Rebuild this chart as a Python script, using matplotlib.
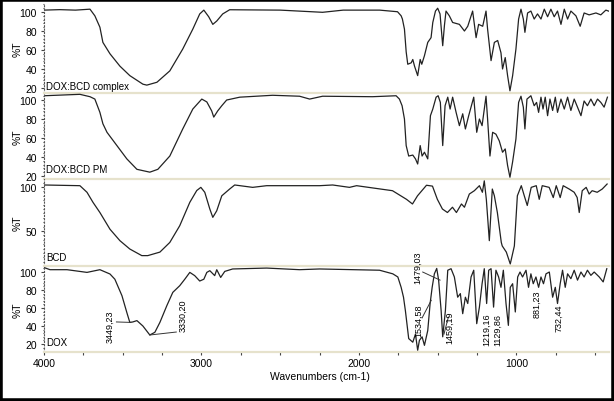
import matplotlib
matplotlib.use('Agg')
import matplotlib.pyplot as plt
from matplotlib.patches import Rectangle
from matplotlib.ticker import MultipleLocator

plt.rcParams['font.family'] = ['Liberation Sans', 'DejaVu Sans']

# Спектры (волновое число, %T)
complex_wn = [4000, 3900, 3800, 3708, 3677, 3645, 3626, 3581, 3518, 3455,
              3372, 3347, 3283, 3201, 3119, 3055, 3011, 2985, 2954, 2928,
              2903, 2865, 2821, 2500, 2231, 2100, 1869, 1755, 1732, 1724,
              1711, 1700, 1690, 1668, 1658, 1647, 1627, 1611, 1601, 1584,
              1563, 1542, 1531, 1514, 1500, 1485, 1468, 1457, 1447, 1426,
              1405, 1362, 1330, 1309, 1278, 1256, 1240, 1214, 1193, 1183,
              1161, 1140, 1119, 1098, 1088, 1071, 1056, 1041, 1024, 1003,
              986, 971, 956, 946, 929, 908, 887, 866, 844, 823,
              802, 781, 760, 739, 717, 696, 675, 654, 622, 595,
              570, 538, 495, 464, 432, 415]
complex_t = [102, 102.5, 102, 103, 96, 84, 68, 56, 43, 33,
             24, 23, 26, 38, 61, 82, 98, 102, 95, 87,
             90.5, 98, 102.4, 102, 99.7, 102, 102, 100.3, 96, 92.6,
             82, 58, 45, 46.5, 50, 43, 33, 50, 45, 54,
             68, 73, 89, 101, 104, 98, 64.5, 86, 101, 96,
             89, 87, 80, 85, 101, 73, 87, 85, 101, 82,
             48.8, 68, 70, 57, 40, 52, 33, 17, 33, 61,
             92.6, 103, 92.6, 78.6, 99, 101, 92.6, 98, 92.6, 103,
             95, 103, 95, 101, 87, 103, 92.6, 101, 96, 85,
             99, 97, 99, 97, 102, 101]

pm_wn = [4000, 3772, 3708, 3677, 3645, 3626, 3600, 3537, 3474, 3410,
         3328, 3277, 3201, 3119, 3055, 2998, 2966, 2935, 2922, 2897,
         2871, 2840, 2757, 2548, 2377, 2313, 2231, 1914, 1764, 1743,
         1726, 1711, 1700, 1684, 1658, 1641, 1627, 1611, 1599, 1584,
         1563, 1546, 1531, 1510, 1497, 1483, 1468, 1453, 1436, 1421,
         1405, 1383, 1362, 1341, 1324, 1303, 1271, 1252, 1235, 1218,
         1193, 1183, 1168, 1151, 1130, 1109, 1088, 1071, 1056, 1041,
         1024, 1003, 986, 971, 956, 946, 933, 908, 887, 872,
         859, 844, 831, 817, 802, 787, 770, 753, 739, 717,
         696, 675, 654, 633, 612, 590, 570, 549, 527, 506,
         485, 464, 443, 422]
pm_t = [104.5, 106, 103.5, 101, 87, 75, 66, 52, 38, 27,
        24, 27, 41, 69.5, 90.5, 101, 98, 88.5, 82, 88.5,
        94, 100, 103, 105, 104, 101, 104, 103.5, 104.5, 101,
        94, 80, 52, 41, 42, 38, 32.6, 52, 41, 45,
        38, 83.5, 90.5, 103, 104.5, 97.5, 52, 94, 103, 90.5,
        103, 87, 73, 85.5, 69.5, 83.5, 103, 66, 80, 73,
        104, 80, 41, 66, 64, 57, 45, 48.5, 31, 18.6,
        35, 59, 97.5, 104, 92.5, 69.5, 101, 104.5, 94, 97.5,
        87, 103, 90.5, 103, 83.5, 101, 89, 103, 87, 101,
        90.5, 103, 89, 101, 92.5, 83.5, 99, 94, 101, 94,
        101, 97.5, 92.5, 103]

bcd_wn = [4000, 3772, 3727, 3689, 3645, 3581, 3518, 3455, 3379, 3341,
          3264, 3201, 3138, 3074, 3030, 3004, 2979, 2947, 2928, 2903,
          2871, 2821, 2789, 2675, 2586, 2250, 2167, 2060, 2015, 1787,
          1698, 1660, 1628, 1571, 1533, 1502, 1470, 1438, 1406, 1381,
          1349, 1330, 1299, 1267, 1235, 1216, 1204, 1191, 1172, 1153,
          1140, 1121, 1096, 1090, 1064, 1039, 1013, 994, 969, 950,
          931, 906, 874, 855, 836, 792, 766, 747, 722, 703,
          665, 633, 614, 601, 582, 557, 538, 519, 487, 455,
          424]
bcd_t = [102.3, 101.5, 94, 82.6, 71, 52, 39, 29.5, 22, 22,
         26, 37, 56, 82.6, 96, 99.6, 94, 75, 65.5, 73,
         90, 97.7, 102.3, 99.6, 101.5, 101.5, 102.3, 99.6, 101.5, 95.8,
         86, 80.7, 90, 102, 101, 86, 75, 71, 77, 71,
         80.7, 77, 92, 95.8, 101.5, 94, 107, 86, 39, 97.7,
         90, 71, 37, 33, 26, 12.5, 33, 90, 101.5, 90,
         79, 99.6, 101.5, 86, 101.5, 99.6, 88, 101.5, 88, 101.5,
         97.7, 94, 88, 71, 95.8, 99.6, 92, 95.8, 94, 97.7,
         103.4]

dox_wn = [4000, 3962, 3854, 3727, 3645, 3581, 3550, 3505, 3474, 3455,
          3436, 3410, 3372, 3328, 3296, 3264, 3220, 3182, 3138, 3106,
          3074, 3043, 3011, 2985, 2966, 2947, 2916, 2903, 2878, 2852,
          2802, 2586, 2377, 2250, 1869, 1785, 1753, 1732, 1717, 1705,
          1684, 1658, 1641, 1627, 1616, 1599, 1584, 1563, 1548, 1535,
          1521, 1506, 1494, 1478, 1468, 1451, 1436, 1415, 1394, 1373,
          1356, 1341, 1324, 1309, 1288, 1271, 1252, 1235, 1218, 1204,
          1189, 1176, 1161, 1145, 1130, 1113, 1098, 1083, 1066, 1051,
          1039, 1024, 1007, 992, 977, 961, 939, 923, 908, 893,
          876, 859, 844, 828, 812, 791, 770, 753, 739, 722,
          707, 690, 675, 654, 633, 612, 590, 570, 549, 527,
          506, 474, 449, 426]
dox_t = [105, 102.6, 102.6, 99.6, 102.6, 97.8, 92, 73.7, 55, 44,
         44.5, 46, 40, 30, 33, 44, 62.6, 77.4, 84.8, 92,
         99.6, 96, 90, 92, 99.6, 101.5, 96, 102.6, 94, 100.7,
         103.4, 104.4, 102.6, 103.4, 102, 98, 94.5, 83, 72, 57,
         26, 22, 31, 13, 24, 28, 18.5, 35, 65, 83,
         98, 104, 91, 57, 28, 57, 102, 103.7, 94.5, 72,
         76, 53.7, 72, 65, 94.5, 102, 42.6, 61, 87, 103.7,
         65, 102, 103.7, 61, 102, 94.5, 83, 102, 65, 40.7,
         83, 87, 55.6, 94.5, 100, 94.5, 102, 83, 98, 87,
         94.5, 83, 94.5, 87, 98, 100, 72, 83, 65, 87,
         102, 83, 98, 92.6, 102, 91, 100, 94.5, 102, 96.3,
         100, 94.5, 89, 103.7]

names = ['DOX:BCD complex', 'DOX:BCD PM', 'BCD', 'DOX']
peak_labels = ['3449,23', '3330,20', '1479,03', '1534,58', '1459,19',
               '1219,16', '1129,86', '881,23', '732,44']

spectra = [(complex_wn, complex_t), (pm_wn, pm_t), (bcd_wn, bcd_t), (dox_wn, dox_t)]

fig = plt.figure(figsize=(6.14, 4.02), dpi=100)
W, H = 614, 402
left, right = 44, 609
# (верх, низ) в пикселях, пределы по y, метки по y, позиция подписи
panels = [((4, 94), (14.7, 109.5), [20, 40, 60, 80, 100], 22),
          ((94, 180), (16.8, 107.4), [20, 40, 60, 80, 100], 27),
          ((180, 267), (10.2, 109.1), [50, 100], 20.5),
          ((267, 353), (11.1, 106.7), [20, 40, 60, 80, 100], 22.6)]

beige = '#e6e2cc'
axes = []
for i, ((top, bot), ylim, yt, label_y) in enumerate(panels):
    ax = fig.add_axes([left / W, 1 - bot / H, (right - left) / W, (bot - top) / H])
    ax.set_facecolor('none')
    wn, t = spectra[i]
    ax.plot(wn, t, color='#222222', lw=0.9)
    ax.set_xlim(4000, 412)
    ax.set_ylim(*ylim)
    ax.set_yticks(yt)
    ax.yaxis.set_minor_locator(MultipleLocator(4 if len(yt) > 2 else 5))
    ax.tick_params(axis='y', which='major', length=2, width=0.8, color='#444444',
                   labelsize=7.5, pad=3)
    ax.tick_params(axis='y', which='minor', length=1, width=0.8, color='#444444')
    for s in ['top', 'right']:
        ax.spines[s].set_visible(False)
    ax.spines['left'].set_linestyle((0, (1, 2)))
    ax.spines['left'].set_color('#555555')
    ax.spines['bottom'].set_color(beige)
    ax.spines['bottom'].set_linewidth(1.6)
    if i < 3:
        ax.tick_params(axis='x', which='both', bottom=False, labelbottom=False)
    else:
        ax.set_xticks([4000, 3000, 2000, 1000])
        ax.xaxis.set_minor_locator(MultipleLocator(250))
        ax.tick_params(axis='x', which='both', length=2, width=0.8, color='#444444',
                       labelsize=7.5, pad=2)
    ax.text(3988, label_y, names[i], fontsize=7, va='center', ha='left')
    fig.text(18 / W, 1 - (top + bot) / 2 / H, '%T', rotation=90, fontsize=7.5,
             ha='center', va='center')
    axes.append(ax)

dox_ax = axes[3]
# подписи пиков: центр текста и отрезок-выноска
text_pos = [(3581, 40), (3119, 53), (1628, 106), (1620, 46.5), (1421, 39),
            (1189, 36.5), (1119, 36.5), (872, 64.8), (728, 50)]
leaders = [((3449, 44), (3540, 44.5)), ((3328, 30), (3160, 33.3)),
           ((1485, 91), (1595, 100)), ((1541, 68.5), (1599, 49)),
           ((1460, 31), (1432, 50)), None, None, None, None]
for lab, (x, y), ld in zip(peak_labels, text_pos, leaders):
    dox_ax.text(x, y, lab, rotation=90, fontsize=6.5, ha='center', va='center',
                clip_on=False, zorder=5)
    if ld is not None:
        dox_ax.plot([ld[0][0], ld[1][0]], [ld[0][1], ld[1][1]], color='#333333',
                    lw=0.7, clip_on=False)

fig.text(320 / W, 1 - 377 / H, 'Wavenumbers (cm-1)', fontsize=7.5, ha='center', va='center')

fig.patches.append(Rectangle((0, 0), 1, 1, transform=fig.transFigure, fill=False,
                             edgecolor='black', linewidth=4))

fig.savefig('out.png', dpi=100)
